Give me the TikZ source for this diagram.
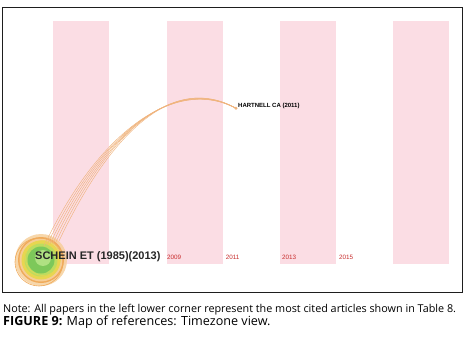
\documentclass[tikz,border=0pt]{standalone}
\usepackage{fontspec}
\setmainfont{Open Sans}
\newfontfamily\arialfont{Liberation Sans}
\definecolor{bandpink}{RGB}{251,221,228}
\definecolor{yearred}{RGB}{200,45,45}
\definecolor{arcorange}{RGB}{240,180,125}
\definecolor{ringorange}{RGB}{240,170,90}
\definecolor{ringpale}{RGB}{246,205,150}
\definecolor{ringyellow}{RGB}{232,214,80}
\definecolor{ringlime}{RGB}{190,220,95}
\definecolor{ringgreen}{RGB}{125,200,90}
\definecolor{ringlight}{RGB}{175,225,130}
\definecolor{framegray}{RGB}{30,30,30}
\tikzset{
  band/.style={fill=bandpink, draw=none},
  yearlbl/.style={anchor=west, inner sep=0pt, text=yearred, font=\arialfont\fontsize{6.3}{7}\selectfont},
  citelbl/.style={anchor=west, inner sep=0pt, font=\arialfont\bfseries\fontsize{6}{7}\selectfont},
  biglbl/.style={anchor=west, inner sep=0pt, font=\arialfont\bfseries\fontsize{11}{12}\selectfont},
  arcline/.style={draw=arcorange, line width=0.45pt},
  captxt/.style={anchor=west, inner sep=0pt, font=\fontsize{10.8}{12}\selectfont}
}
\begin{document}
\begin{tikzpicture}[x=1pt, y=-1pt]
\useasboundingbox (0,0) rectangle (465,339);
\fill[white] (0,0) rectangle (465,339);
% bands
\fill[band] (53.3,21.3) rectangle (109.3,264);
\fill[band] (166.5,21.3) rectangle (222.7,264);
\fill[band] (280,21.3) rectangle (336,264);
\fill[band] (393,21.3) rectangle (449,264);
% year labels
\node[yearlbl] (y2009) at (167,257.5) {2009};
\node[yearlbl] (y2011) at (225.7,257.5) {2011};
\node[yearlbl] (y2013) at (282,257.5) {2013};
\node[yearlbl] (y2015) at (339,257.5) {2015};
% cited node circle
\coordinate (schein) at (41,260);
\fill[ringpale, opacity=0.8] (schein) circle (26);
\fill[ringorange] (schein) circle (23);
\fill[ringpale] (schein) circle (21.5);
\fill[ringyellow] (schein) circle (19.5);
\fill[ringlime] (schein) circle (16.5);
\fill[ringgreen] (schein) circle (13.5);
\fill[ringlight] (43,258) circle (8);
\draw[ringorange, line width=0.6pt] (39,262) circle (24);
\draw[ringyellow, line width=0.5pt] (43,258) circle (17.5);
% HARTNELL node
\coordinate (hart) at (236,108.3);
\fill[arcorange] (hart) circle (1.6);
% arc bundle
\coordinate (a1) at (44,246);
\coordinate (a2) at (47,245);
\coordinate (a3) at (50,244);
\coordinate (a4) at (53,243);
\coordinate (a5) at (56,242);
\coordinate (a6) at (59,241);
\draw[arcline] (a1) .. controls (98,132) and (175,76) .. (hart);
\draw[arcline] (a2) .. controls (101,131) and (175,76) .. (hart);
\draw[arcline] (a3) .. controls (104,130) and (175,75) .. (hart);
\draw[arcline] (a4) .. controls (107,129) and (175,75) .. (hart);
\draw[arcline] (a5) .. controls (110,128) and (175,74) .. (hart);
\draw[arcline] (a6) .. controls (113,127) and (176,74) .. (hart);
% labels
\node[citelbl] (hartlbl) at (238,105.5) {HARTNELL CA (2011)};
\node[biglbl, text=black!85] (scheina) at (35,257) {SCHEIN ET (1985)(2013)};
% frame
\draw[framegray, line width=0.9pt] (2.7,7.3) rectangle (462.3,292.3);
% caption
\node[captxt] (note) at (3,310) {Note: All papers in the left lower corner represent the most cited articles shown in Table 8.};
\node[captxt, font=\fontsize{12.6}{14}\selectfont] (fig) at (3,322.5) {\textbf{FIGURE 9:} Map of references: Timezone view.};
\end{tikzpicture}
\end{document}
